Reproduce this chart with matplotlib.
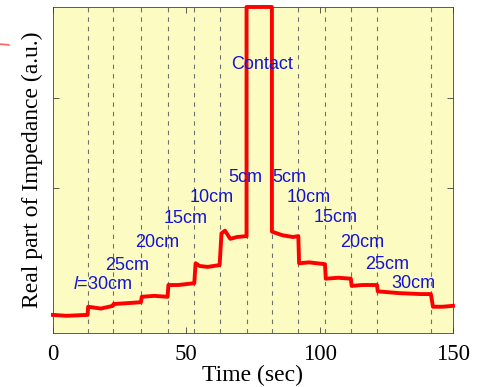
import matplotlib
matplotlib.use("Agg")
import matplotlib.pyplot as plt
from matplotlib.lines import Line2D

plt.rcParams["mathtext.fontset"] = "custom"
plt.rcParams["mathtext.it"] = "Liberation Sans:italic"
plt.rcParams["mathtext.rm"] = "Liberation Sans"

# ---- data ----
time = [0, 5, 13, 13.2, 18, 22.5, 22.7, 28, 33, 33.3, 38, 43, 43.3, 47, 53, 53.5, 55, 58,
        62.5, 63.2, 64.5, 66.5, 69, 72.6, 72.6, 82.1, 82.1, 83, 86, 90, 92, 92.3, 96, 102,
        102.3, 107, 111.7, 112, 116, 121.5, 121.8, 130, 138, 141.7, 142.5, 146, 150]
impedance = [0.60, 0.59, 0.60, 0.69, 0.67, 0.70, 0.72, 0.73, 0.74, 0.80, 0.81, 0.80, 0.93, 0.93,
             0.95, 1.17, 1.14, 1.13, 1.15, 1.50, 1.53, 1.44, 1.46, 1.47, 4.0, 4.0, 1.52, 1.51,
             1.48, 1.46, 1.47, 1.17, 1.18, 1.16, 1.00, 1.01, 1.00, 0.92, 0.93, 0.93, 0.86, 0.84,
             0.83, 0.83, 0.69, 0.69, 0.70]

step_times = [13, 22.5, 33, 43, 53, 62.5, 72.6, 82.1, 92, 102, 111.7, 121.5, 141.7]

approach_labels = ["$\\mathit{l}$=30cm", "25cm", "20cm", "15cm", "10cm", "5cm"]
approach_x = [18.5, 27.8, 39.0, 49.8, 59.6, 72.2]
approach_y = [0.94, 1.15, 1.40, 1.66, 1.90, 2.12]
retreat_labels = ["5cm", "10cm", "15cm", "20cm", "25cm", "30cm"]
retreat_x = [88.8, 95.9, 106.1, 116.1, 125.2, 135.0]
retreat_y = [2.12, 1.90, 1.67, 1.40, 1.16, 0.95]

fig = plt.figure(figsize=(4.9, 3.87), dpi=100)
ax = fig.add_axes([0.108, 0.1395, 0.8165, 0.8425])
ax.set_facecolor("#fcfcc2")

for t in step_times:
    ax.axvline(t, color="#707070", ls=(0, (4, 4.5)), lw=0.8, zorder=1)

ax.plot(time, impedance, color="red", lw=2.8, zorder=3, clip_on=False)

txt = dict(color="#1414d2", fontsize=13, family="Liberation Sans", ha="center", va="center")
for s, x, y in zip(approach_labels, approach_x, approach_y):
    ax.text(x, y, s, **txt)
for s, x, y in zip(retreat_labels, retreat_x, retreat_y):
    ax.text(x, y, s, **txt)
ax.text(78.4, 3.36, "Contact", **txt)

ax.set_xlim(0, 150)
ax.set_ylim(0.4, 4.0)
ax.set_xticks([0, 50, 100, 150])
ax.set_yticks([2, 3])
ax.set_yticklabels([])
ax.tick_params(direction="in", length=4, width=0.6, top=True, right=True,
               labelsize=16.5, pad=8, colors="#404040", labelcolor="black")
for lab in ax.get_xticklabels():
    lab.set_family("Liberation Serif")
for sp in ax.spines.values():
    sp.set_linewidth(0.6)
    sp.set_color("#404040")

ax.set_xlabel("Time (sec)", family="Liberation Serif", fontsize=17, labelpad=-0.5)
ax.set_ylabel("Real part of Impedance (a.u.)", family="Liberation Serif", fontsize=17, labelpad=-1)

# small red mark at the left edge of the picture
fig.add_artist(Line2D([0.0, 0.018], [0.886, 0.884], color="#ff6060", lw=1.2))

fig.savefig("out.png", dpi=100)
